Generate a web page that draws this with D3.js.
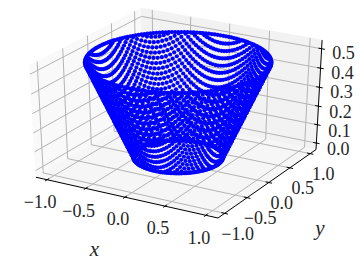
<!DOCTYPE html>
<html><head><meta charset="utf-8">
<script src="https://cdnjs.cloudflare.com/ajax/libs/d3/7.8.5/d3.min.js"></script>
<style>html,body{margin:0;padding:0;background:#fff}svg{display:block}text{font-family:"Liberation Serif",serif;fill:#262626}</style>
</head><body><svg id="c" width="360" height="259"></svg>
<script>
// ---- data ----
const xTicks=[-1,-0.5,0,0.5,1];
const yTicks=[-1,-0.5,0,0.5,1];
const zTicks=[0,0.1,0.2,0.3,0.4,0.5];
const xLabels=["\u22121.0","\u22120.5","0.0","0.5","1.0"];
const yLabels=["\u22121.0","\u22120.5","0.0","0.5","1.0"];
const zLabels=["0.0","0.1","0.2","0.3","0.4","0.5"];
const xGrid=[-1,-0.966,-0.932,-0.898,-0.864,-0.831,-0.797,-0.763,-0.729,-0.695,-0.661,-0.627,-0.593,-0.559,-0.525,-0.492,-0.458,-0.424,-0.390,-0.356,-0.322,-0.288,-0.254,-0.220,-0.186,-0.153,-0.119,-0.085,-0.051,-0.017,0.017,0.051,0.085,0.119,0.153,0.186,0.220,0.254,0.288,0.322,0.356,0.390,0.424,0.458,0.492,0.525,0.559,0.593,0.627,0.661,0.695,0.729,0.763,0.797,0.831,0.864,0.898,0.932,0.966,1];
const yGrid=[-1,-0.966,-0.932,-0.898,-0.864,-0.831,-0.797,-0.763,-0.729,-0.695,-0.661,-0.627,-0.593,-0.559,-0.525,-0.492,-0.458,-0.424,-0.390,-0.356,-0.322,-0.288,-0.254,-0.220,-0.186,-0.153,-0.119,-0.085,-0.051,-0.017,0.017,0.051,0.085,0.119,0.153,0.186,0.220,0.254,0.288,0.322,0.356,0.390,0.424,0.458,0.492,0.525,0.559,0.593,0.627,0.661,0.695,0.729,0.763,0.797,0.831,0.864,0.898,0.932,0.966,1];
const radiusStops=[0.5,1];
const heightStops=[0,0.5];
const rimDeg=[0,2,4,6,8,10,12,14,16,18,20,22,24,26,28,30,32,34,36,38,40,42,44,46,48,50,52,54,56,58,60,62,64,66,68,70,72,74,76,78,80,82,84,86,88,90,92,94,96,98,100,102,104,106,108,110,112,114,116,118,120,122,124,126,128,130,132,134,136,138,140,142,144,146,148,150,152,154,156,158,160,162,164,166,168,170,172,174,176,178,180,182,184,186,188,190,192,194,196,198,200,202,204,206,208,210,212,214,216,218,220,222,224,226,228,230,232,234,236,238,240,242,244,246,248,250,252,254,256,258,260,262,264,266,268,270,272,274,276,278,280,282,284,286,288,290,292,294,296,298,300,302,304,306,308,310,312,314,316,318,320,322,324,326,328,330,332,334,336,338,340,342,344,346,348,350,352,354,356,358];
const xLim=[-1.146,1.146], yLim=[-1.146,1.146], zLim=[-0.036,0.544];

// ---- view ----
const BLUE="#0000ff",GRID="#b4b4b4";
const wx=d3.scaleLinear().domain(xLim).range([0,1]);
const wy=d3.scaleLinear().domain(yLim).range([0,1]);
const wz=d3.scaleLinear().domain(zLim).range([0,0.88]);
const surface=d3.scaleLinear().domain(radiusStops).range(heightStops);
const el=30*Math.PI/180, az=-60*Math.PI/180, dist=10;
const eye=[0.5+dist*Math.cos(el)*Math.cos(az),0.5+dist*Math.cos(el)*Math.sin(az),0.44+dist*Math.sin(el)];
const sub=(a,b)=>[a[0]-b[0],a[1]-b[1],a[2]-b[2]];
const dot=(a,b)=>a[0]*b[0]+a[1]*b[1]+a[2]*b[2];
const cross=(a,b)=>[a[1]*b[2]-a[2]*b[1],a[2]*b[0]-a[0]*b[2],a[0]*b[1]-a[1]*b[0]];
const norm=a=>{const l=Math.hypot(...a);return a.map(v=>v/l)};
const n=norm(sub(eye,[0.5,0.5,0.44])), u=norm(cross([0,0,1],n)), v=cross(n,u);
function proj(x,y,z){
  const p=sub([wx(x),wy(y),wz(z)],eye);
  const d=-dot(p,n);
  return [dot(p,u)/d,dot(p,v)/d];
}
const [x0,x1]=xLim,[y0,y1]=yLim,[z0,z1]=zLim;
const sx=d3.scaleLinear().domain([proj(x0,y0,z0)[0],proj(x1,y1,z0)[0]]).range([36,316]);
const sy=d3.scaleLinear().domain([proj(x1,y0,z0)[1],proj(x0,y1,z1)[1]]).range([218,8]);
const P=(x,y,z)=>{const p=proj(x,y,z);return [sx(p[0]),sy(p[1])]};

const svg=d3.select("#c");
const line=d3.line();
const poly=(pts,fill)=>svg.append("path").attr("d",line(pts)+"Z").attr("fill",fill).attr("stroke",fill).attr("stroke-width",0.8);
poly([P(x0,y0,z0),P(x0,y1,z0),P(x0,y1,z1),P(x0,y0,z1)],"#f9f9f9");
poly([P(x0,y1,z0),P(x1,y1,z0),P(x1,y1,z1),P(x0,y1,z1)],"#f2f2f2");
poly([P(x0,y0,z0),P(x1,y0,z0),P(x1,y1,z0),P(x0,y1,z0)],"#f6f6f6");

const path=(pts,col,w)=>svg.append("path").attr("d",line(pts)).attr("fill","none").attr("stroke",col).attr("stroke-width",w);
xTicks.forEach(t=>path([P(t,y0,z0),P(t,y1,z0),P(t,y1,z1)],GRID,1));
yTicks.forEach(t=>path([P(x1,t,z0),P(x0,t,z0),P(x0,t,z1)],GRID,1));
zTicks.forEach(t=>path([P(x1,y1,t),P(x0,y1,t),P(x0,y0,t)],GRID,1));

path([P(x0,y0,z0),P(x1,y0,z0)],"#000",1);
path([P(x1,y0,z0),P(x1,y1,z0)],"#000",1);
path([P(x1,y1,z0),P(x1,y1,z1)],"#000",1);
const dxT=0.035*(x1-x0), dyT=0.035*(y1-y0);
xTicks.forEach(t=>path([P(t,y0+dyT*0.5,z0),P(t,y0-dyT*0.5,z0)],"#000",1));
yTicks.forEach(t=>path([P(x1-dxT*0.5,t,z0),P(x1+dxT*0.5,t,z0)],"#000",1));
zTicks.forEach(t=>path([P(x1-dxT*0.5,y1,t),P(x1+dxT*0.5,y1,t)],"#000",1));

// points of the grid that lie on the truncated cone
const pts=[];
xGrid.forEach(x=>yGrid.forEach(y=>{
  const r=Math.hypot(x,y);
  if(r>=radiusStops[0]&&r<=radiusStops[1]) pts.push(P(x,y,surface(r)));
}));
radiusStops.forEach(r=>rimDeg.forEach(d=>{
  const a=d*Math.PI/180;
  pts.push(P(r*Math.cos(a),r*Math.sin(a),surface(r)));
}));
svg.append("g").selectAll("circle").data(pts).join("circle")
  .attr("cx",d=>d[0]).attr("cy",d=>d[1]).attr("r",2.1).attr("fill",BLUE);

const label=(s,x,y,fs,it)=>svg.append("text").attr("x",x).attr("y",y+fs*0.32).attr("text-anchor","middle")
  .attr("font-size",fs).attr("font-style",it?"italic":"normal").text(s);
xTicks.forEach((t,i)=>{const p=P(t,y0,z0);label(xLabels[i],p[0]-7,p[1]+22.5,18)});
yTicks.forEach((t,i)=>{const p=P(x1,t,z0);label(yLabels[i],p[0]+13,p[1]+20.5,18)});
zTicks.forEach((t,i)=>{const p=P(x1,y1,t);label(zLabels[i],p[0]+22,p[1]+6.5-4.4*t,18)});
label("x",94.5,249,21,true);
label("y",320,228,21,true);
</script></body></html>
